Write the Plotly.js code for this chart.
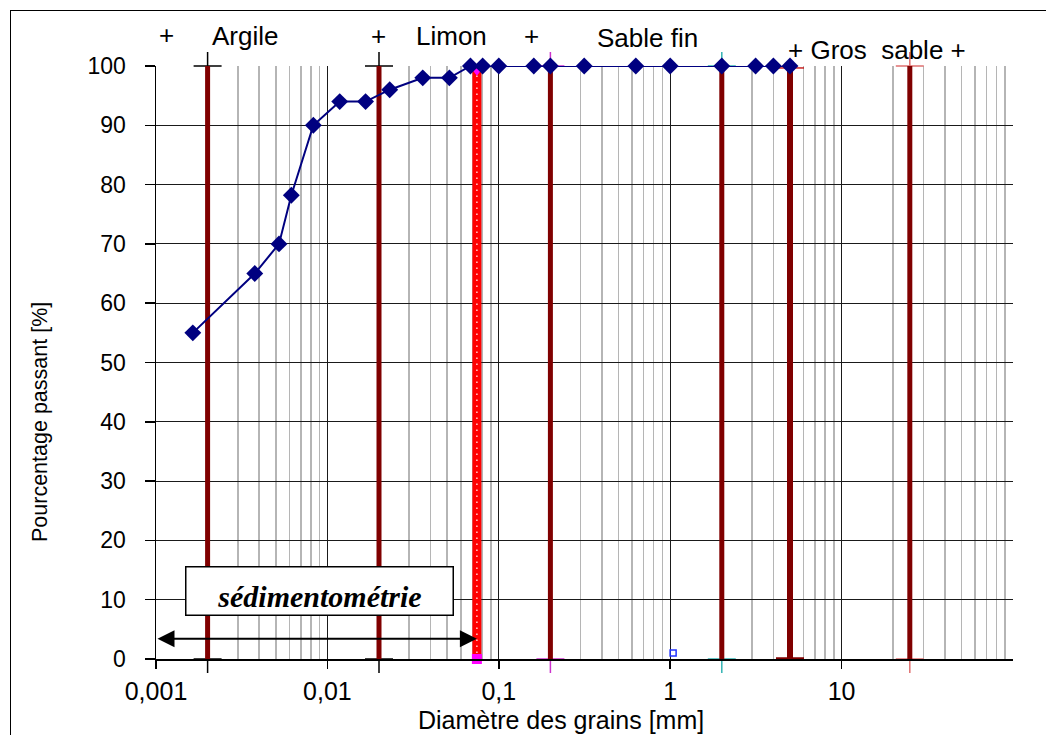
<!DOCTYPE html>
<html>
<head>
<meta charset="utf-8">
<script src="https://cdn.plot.ly/plotly-3.0.1.min.js"></script>
<style>
  html, body { margin: 0; padding: 0; background: #fff; }
  #wrap { position: relative; width: 1046px; height: 735px; overflow: hidden; }
  #chart { position: absolute; left: 0; top: 0; width: 1046px; height: 735px; }
  #frame { position: absolute; left: 10px; top: 10px; width: 1100px; height: 800px;
           border: 1.5px solid #000; pointer-events: none; box-sizing: border-box; }
</style>
</head>
<body>
<div id="wrap"><div id="chart"></div><div id="frame"></div></div>
<script>
// ---- data ----
const grainSize = [0.00164, 0.00377, 0.00522, 0.00616, 0.00828, 0.0118, 0.0167, 0.0231,
                   0.036, 0.0515, 0.0683, 0.0805, 0.1, 0.16, 0.2, 0.315, 0.63, 1, 2, 3.15, 4, 5];
const passing   = [55, 65, 70, 78.2, 90, 94, 94, 96,
                   98, 98, 100, 100, 100, 100, 100, 100, 100, 100, 100, 100, 100, 100];

const boundaryX      = [0.002, 0.02, 0.2, 2, 25];        // dark red class limits
const boundaryCross  = ['#000000', '#000000', '#cc33cc', '#33b3b3', '#e07070'];
const boundarySymbol = ['cross-thin', 'cross-thin', 'cross-thin', 'cross-thin', 'cross-thin'];
const coarseLimitX   = 5;                                 // thicker limit with caps
const sieveX         = 0.0745;                            // red dotted bar (80 µm sieve)
const sedimentRange  = [0.001, 0.0745];                   // double arrow extent
const smallPoint     = { x: [1.04], y: [1.0] };            // small blue marker

const xTickVals = [0.001, 0.01, 0.1, 1, 10];
const xTickText = ['0,001', '0,01', '0,1', '1', '10'];
const yTickVals = [0, 10, 20, 30, 40, 50, 60, 70, 80, 90, 100];

const topLabels = [
  { text: '+', px: 166, py: 35 },
  { text: 'Argile', px: 245, py: 36 },
  { text: '+', px: 378, py: 36 },
  { text: 'Limon', px: 451, py: 36 },
  { text: '+', px: 531, py: 36 },
  { text: 'Sable fin', px: 647, py: 38 },
  { text: '+ Gros\u00a0 sable +', px: 877, py: 50 }
];

// ---- layout geometry ----
const M = { l: 156, r: 33, t: 66, b: 76 };
const W = 1046, H = 735;
const PW = W - M.l - M.r, PH = H - M.t - M.b;
const px2x = p => (p - M.l) / PW;
const py2y = p => (H - M.b - p) / PH;

// minor grid positions (2..9 of every decade)
const minorVals = [];
for (let d = -3; d < 2; d++) for (let k = 2; k <= 9; k++) minorVals.push(k * Math.pow(10, d));

const traces = [];
const DARKRED = '#800000';

// end markers of each limit line (drawn first, below the lines)
boundaryX.forEach((bx, i) => {
  traces.push({
    x: [bx, bx], y: [0, 100], mode: 'markers', cliponaxis: false, hoverinfo: 'skip',
    marker: { symbol: boundarySymbol[i], size: 20, color: boundaryCross[i],
              line: { width: 1.5, color: boundaryCross[i] } }
  });
});

// limit lines
boundaryX.forEach(bx => {
  traces.push({
    x: [bx, bx], y: [0, 100], mode: 'lines', hoverinfo: 'skip',
    line: { color: DARKRED, width: 5 }
  });
});

// thick limit at 5 mm with caps
traces.push({ x: [coarseLimitX, coarseLimitX], y: [0, 100], mode: 'lines', hoverinfo: 'skip',
  line: { color: DARKRED, width: 6 } });
traces.push({ x: [coarseLimitX], y: [0], mode: 'markers', cliponaxis: false, hoverinfo: 'skip',
  marker: { symbol: 'line-ew', size: 20, line: { width: 3.5, color: DARKRED } } });
traces.push({ x: [coarseLimitX, coarseLimitX], y: [100.33, 99.67], mode: 'markers', cliponaxis: false, hoverinfo: 'skip',
  marker: { symbol: 'line-ew', size: 20, line: { width: 1.3, color: '#c00000' } } });

// red dotted sieve bar
traces.push({ x: [sieveX, sieveX], y: [0, 100], mode: 'lines', hoverinfo: 'skip',
  line: { color: '#ff0000', width: 9 } });
traces.push({ x: [sieveX, sieveX], y: [0, 100], mode: 'lines', hoverinfo: 'skip',
  line: { color: '#ffd0d0', width: 1.5, dash: '1.5px,4.5px' } });
traces.push({ x: [sieveX], y: [0], mode: 'markers', cliponaxis: false, hoverinfo: 'skip',
  marker: { symbol: 'square', size: 10, color: '#ff00ff' } });
traces.push({ x: [sieveX], y: [99.2], mode: 'markers', cliponaxis: false, hoverinfo: 'skip',
  marker: { symbol: 'triangle-down', size: 10, color: '#ff00ff' } });

// small blue marker
traces.push({ x: smallPoint.x, y: smallPoint.y, mode: 'markers', cliponaxis: false, hoverinfo: 'skip',
  marker: { symbol: 'square-open', size: 6, color: '#2233ff', line: { width: 1.5, color: '#2233ff' } } });

// grading curve
traces.push({
  x: grainSize, y: passing, mode: 'lines+markers', cliponaxis: false,
  line: { color: '#000080', width: 2 },
  marker: { symbol: 'diamond', size: 13, color: '#000080' }
});

const annotations = topLabels.map(l => ({
  text: l.text, xref: 'paper', yref: 'paper', x: px2x(l.px), y: py2y(l.py),
  xanchor: 'center', yanchor: 'middle', showarrow: false,
  font: { family: 'Liberation Sans, Arial, sans-serif', size: 26, color: '#000' }
}));

// axis titles
annotations.push({
  text: 'Diamètre des grains [mm]', xref: 'paper', yref: 'paper',
  x: px2x(561), y: py2y(720), xanchor: 'center', yanchor: 'middle', showarrow: false,
  font: { family: 'Liberation Sans, Arial, sans-serif', size: 25, color: '#000' }
});
annotations.push({
  text: 'Pourcentage passant [%]', xref: 'paper', yref: 'paper', textangle: -90,
  x: px2x(40), y: py2y(422), xanchor: 'center', yanchor: 'middle', showarrow: false,
  font: { family: 'Liberation Sans, Arial, sans-serif', size: 21.5, color: '#000' }
});

// sedimentometry box
annotations.push({
  text: 'sédimentométrie', xref: 'paper', yref: 'paper',
  x: px2x(319.5), y: py2y(590.5), xanchor: 'center', yanchor: 'middle', showarrow: false,
  width: 262, height: 43, valign: 'bottom', align: 'center', borderpad: 2, borderwidth: 1.5,
  bordercolor: '#000', bgcolor: '#ffffff',
  font: { family: 'Liberation Serif, Times New Roman, serif', size: 30, color: '#000',
          weight: 'bold', style: 'italic' }
});

// double arrow
annotations.push({
  text: '', xref: 'x', yref: 'y', axref: 'x', ayref: 'y',
  x: Math.log10(sedimentRange[1]), y: 3.4,
  ax: Math.log10(sedimentRange[0]), ay: 3.4,
  showarrow: true, arrowside: 'end+start', arrowhead: 2, arrowsize: 1.7,
  arrowwidth: 2, arrowcolor: '#000', standoff: 0, startstandoff: 0
});

const layout = {
  width: W, height: H,
  margin: M,
  paper_bgcolor: 'rgba(0,0,0,0)',
  plot_bgcolor: 'rgba(0,0,0,0)',
  showlegend: false,
  font: { family: 'Liberation Sans, Arial, sans-serif', color: '#000' },
  xaxis: {
    type: 'log', range: [-3, 2],
    tickmode: 'array', tickvals: xTickVals, ticktext: xTickText,
    ticks: 'outside', ticklen: 8, tickwidth: 1.5, tickcolor: '#000',
    ticklabelstandoff: 1,
    tickfont: { size: 25, color: '#000' },
    showgrid: true, gridcolor: '#1a1a1a', gridwidth: 1,
    showline: true, linecolor: '#000', linewidth: 1.5,
    zeroline: false,
    minor: { tickmode: 'array', tickvals: minorVals, showgrid: true,
             gridcolor: '#b5b5b5', gridwidth: 1.5, ticks: '' }
  },
  yaxis: {
    range: [0, 100], tickmode: 'array', tickvals: yTickVals,
    ticks: 'outside', ticklen: 10, tickwidth: 1.5, tickcolor: '#000',
    ticklabelstandoff: 14,
    tickfont: { size: 23, color: '#000' },
    showgrid: true, gridcolor: '#1a1a1a', gridwidth: 1,
    showline: true, linecolor: '#000', linewidth: 1.5,
    zeroline: false
  },
  annotations: annotations
};

Plotly.newPlot('chart', traces, layout, { staticPlot: true, displayModeBar: false });
</script>
</body>
</html>
